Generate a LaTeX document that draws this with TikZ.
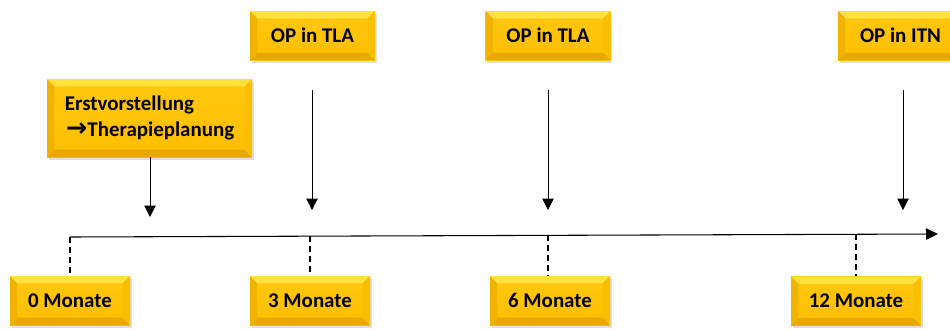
\documentclass[tikz,border=0pt]{standalone}
\usepackage{fontspec}
\setmainfont{Carlito}
\newfontfamily\arrowfont{DejaVu Sans Bold}
\usetikzlibrary{arrows.meta,shadows,calc}
\definecolor{faceTop}{HTML}{FFC810}
\definecolor{faceBot}{HTML}{FFBE00}
\definecolor{bevTop}{HTML}{FFE23C}
\definecolor{bevLeft}{HTML}{F0B400}
\definecolor{bevRight}{HTML}{F8C000}
\definecolor{bevBot}{HTML}{E6A900}
\tikzset{
  bevelbox/.style={
    inner sep=0pt, font=\bfseries\fontsize{15.7}{19.5}\selectfont,
    top color=faceTop, bottom color=faceBot, draw=none,
    drop shadow={opacity=0.25, shadow xshift=1.2pt, shadow yshift=-2.2pt},
    path picture={
      \def\bb{path picture bounding box}
      \fill[bevTop] (\bb.north west) -- (\bb.north east) -- ([shift={(-5.5pt,-5.5pt)}]\bb.north east) -- ([shift={(5.5pt,-5.5pt)}]\bb.north west) -- cycle;
      \fill[bevBot] (\bb.south west) -- (\bb.south east) -- ([shift={(-5.5pt,5.5pt)}]\bb.south east) -- ([shift={(5.5pt,5.5pt)}]\bb.south west) -- cycle;
      \fill[bevLeft] (\bb.north west) -- ([shift={(5.5pt,-5.5pt)}]\bb.north west) -- ([shift={(5.5pt,5.5pt)}]\bb.south west) -- (\bb.south west) -- cycle;
      \fill[bevRight] (\bb.north east) -- ([shift={(-5.5pt,-5.5pt)}]\bb.north east) -- ([shift={(-5.5pt,5.5pt)}]\bb.south east) -- (\bb.south east) -- cycle;
    }},
  topbox/.style={bevelbox, minimum width=93.75pt, minimum height=36.75pt},
  botbox/.style={bevelbox, minimum width=90pt, minimum height=36.75pt},
  downarrow/.style={-{Triangle[length=8.5pt,width=8.5pt]}, line width=0.75pt},
  tickline/.style={dash pattern=on 4.5pt off 3pt, line width=1.1pt},
  timeline/.style={-{Triangle[length=9pt,width=8.5pt]}, line width=0.8pt}
}
\begin{document}
\begin{tikzpicture}[x=0.75pt,y=-0.75pt]
\useasboundingbox[fill=white] (0,0) rectangle (950,329);
\clip (0,0) rectangle (950,329);
% top boxes
\node[topbox] (op1) at (312.5,35.5) {OP in TLA};
\node[topbox] (op2) at (548,35.5) {OP in TLA};
\node[topbox] (op3) at (900.5,35.5) {OP in ITN};
\node[bevelbox, minimum width=153.75pt, minimum height=58.5pt, align=left] (erst) at (149.5,118)
  {Erstvorstellung\\ \hspace*{1pt}{\arrowfont\fontsize{19}{19.5}\selectfont →}Therapieplanung};
% arrows
\coordinate (e1) at (150,217);
\coordinate (s1) at (312,90);  \coordinate (t1) at (312,210);
\coordinate (s2) at (548,90);  \coordinate (t2) at (548,210);
\coordinate (s3) at (903,90);  \coordinate (t3) at (903,210);
\draw[downarrow] (erst.south -| e1) -- (e1);
\draw[downarrow] (s1) -- (t1);
\draw[downarrow] (s2) -- (t2);
\draw[downarrow] (s3) -- (t3);
% timeline
\coordinate (L0) at (70,237);
\coordinate (Lend) at (938,234);
\draw[timeline] (L0) -- (Lend);
\coordinate (k1) at (310,236.2);
\coordinate (k2) at (548,235.3);
\coordinate (k3) at (856,234.3);
% bottom boxes
\node[botbox] (m0) at (70,300.5) {0 Monate};
\node[botbox] (m3) at (310,300.5) {3 Monate};
\node[botbox] (m6) at (550,300.5) {6 Monate};
\node[botbox, minimum width=97.5pt] (m12) at (856,301) {12 Monate};
\draw[tickline] (L0) -- (L0 |- m0.north);
\draw[tickline] (k1) -- (k1 |- m3.north);
\draw[tickline] (k2) -- (k2 |- m6.north);
\draw[tickline] (k3) -- (k3 |- m12.north);
\end{tikzpicture}
\end{document}
